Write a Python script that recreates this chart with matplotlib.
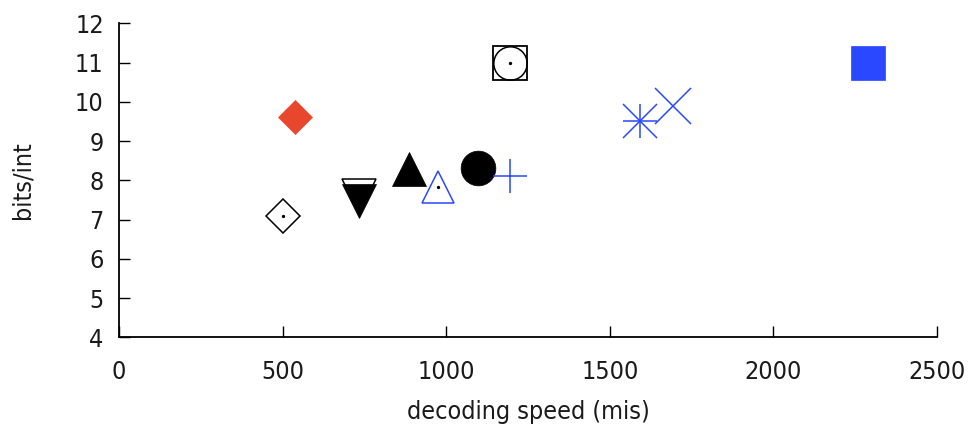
import matplotlib
matplotlib.use('Agg')
import matplotlib.pyplot as plt

# decoding speed (mis) and bits/int for each codec point
speed = [500, 537, 733, 733, 886, 975, 1096, 1195, 1195, 1592, 1692, 2290]
bits = [7.1, 9.6, 7.6, 7.47, 8.3, 7.82, 8.31, 8.11, 11.0, 9.52, 9.89, 11.0]

x_ticks = [0, 500, 1000, 1500, 2000, 2500]
y_ticks = [4, 5, 6, 7, 8, 9, 10, 11, 12]

blue = '#2a48ff'
red = '#e9472d'

fig = plt.figure(figsize=(9.74, 4.25), dpi=100)
ax = fig.add_axes([0.1222, 0.2064, 0.8398, 0.7388])

def pt(i, **kw):
    ax.plot([speed[i]], [bits[i]], linestyle='none', clip_on=False, **kw)

# open diamond with dot
pt(0, marker='D', ms=17.5, mfc='white', mec='black', mew=1.1)
pt(0, marker='o', ms=2.4, mfc='black', mec='black', mew=0)
# red diamond
pt(1, marker='D', ms=17.8, mfc=red, mec=red, mew=0.5)
# open down triangle behind the filled one
pt(2, marker='v', ms=25, mfc='white', mec='black', mew=1.1)
pt(3, marker='v', ms=24.5, mfc='black', mec='black', mew=0.5)
# filled up triangle
pt(4, marker='^', ms=24, mfc='black', mec='black', mew=0.5)
# open blue triangle with dot
pt(5, marker='^', ms=23, mfc='none', mec=blue, mew=1.1)
pt(5, marker='o', ms=2.4, mfc='black', mec='black', mew=0)
# filled circle
pt(6, marker='o', ms=25, mfc='black', mec='black', mew=0.5)
# blue plus
pt(7, marker='+', ms=24.5, mec=blue, mew=1.1)
# circle in square with dot
pt(8, marker='s', ms=25, mfc='white', mec='black', mew=1.3)
pt(8, marker='o', ms=24, mfc='none', mec='black', mew=1.1)
pt(8, marker='o', ms=2.4, mfc='black', mec='black', mew=0)
# blue asterisk (plus + cross)
pt(9, marker='+', ms=25, mec=blue, mew=1.1)
pt(9, marker='x', ms=25, mec=blue, mew=1.1)
# blue cross
pt(10, marker='x', ms=26, mec=blue, mew=1.1)
# blue filled square
pt(11, marker='s', ms=25, mfc=blue, mec=blue, mew=0.5)

ax.set_xlim(0, 2500)
ax.set_ylim(4, 12)
ax.set_xticks(x_ticks)
ax.set_yticks(y_ticks)

ax.spines['top'].set_visible(False)
ax.spines['right'].set_visible(False)
ax.spines['left'].set_linewidth(1.3)
ax.spines['bottom'].set_linewidth(1.3)

ax.tick_params(axis='both', direction='in', length=8, width=1.0, labelsize=18, labelcolor='#1a1a1a')
ax.tick_params(axis='x', pad=16)
ax.tick_params(axis='y', pad=11)
for lab in ax.get_xticklabels() + ax.get_yticklabels():
    lab.set_fontstretch('condensed')

ax.set_xlabel('decoding speed (mis)', fontsize=18, fontstretch='condensed', color='#1a1a1a')
ax.set_ylabel('bits/int', fontsize=18, fontstretch='condensed', color='#1a1a1a')
ax.xaxis.set_label_coords(0.5, -0.2)
ax.yaxis.set_label_coords(-0.103, 0.5)

fig.savefig('out.png', dpi=100)
